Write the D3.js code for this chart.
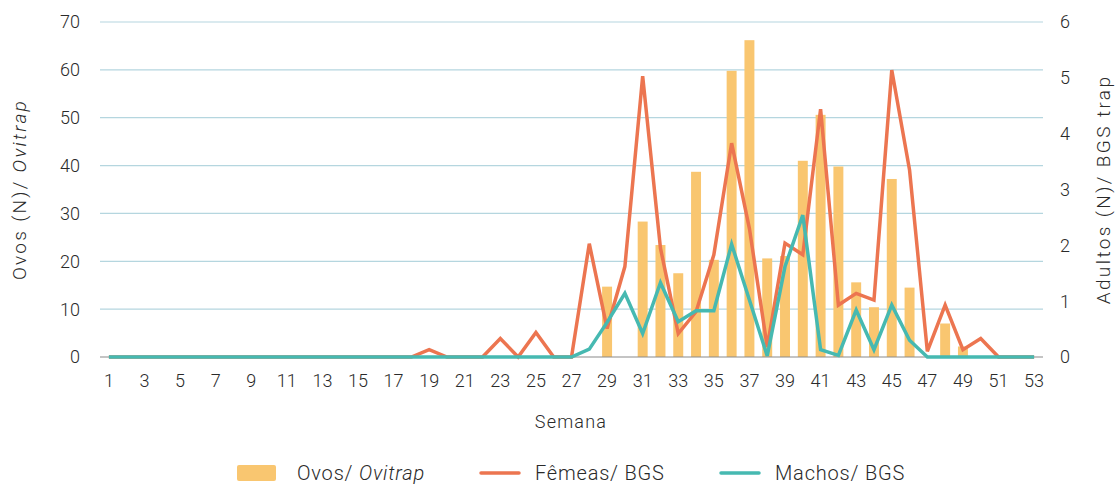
<!DOCTYPE html>
<html>
<head>
<meta charset="utf-8">
<script src="https://cdn.jsdelivr.net/npm/d3@7"></script>
<style>
  body { margin: 0; background: #fff; }
  text { font-family: Roboto, sans-serif; font-weight: 300; fill: #2a2a2a; }
</style>
</head>
<body>
<div id="chart"></div>
<script>
const width = 1119
    height = 484
    margin = {top: 22, right: 76, bottom: 127, left: 100};

// semanas 1..53
const weeks = d3.range(1, 54);

// Ovos/ Ovitrap (eixo esquerdo)
const ovos = [
  0, 0, 0, 0, 0, 0, 0, 0, 0, 0,
  0, 0, 0, 0, 0, 0, 0, 0, 0, 0,
  0, 0, 0, 0, 0, 0, 0, 0, 14.7, 0,
  28.3, 23.4, 17.5, 38.7, 20.3, 59.8, 66.2, 20.6, 21.1, 41.0,
  50.6, 39.8, 15.6, 10.4, 37.2, 14.5, 0, 7.0, 2.2, 0,
  0, 0, 0
];

// Fêmeas/ BGS (eixo direito)
const femeas = [
  0, 0, 0, 0, 0, 0, 0, 0, 0, 0,
  0, 0, 0, 0, 0, 0, 0, 0, 0.13, 0,
  0, 0, 0.33, 0, 0.44, 0, 0, 2.03, 0.51, 1.62,
  5.03, 1.95, 0.42, 0.81, 1.83, 3.83, 2.3, 0.18, 2.04, 1.83,
  4.44, 0.93, 1.14, 1.02, 5.14, 3.35, 0.1, 0.93, 0.13, 0.33,
  0, 0, 0
];

// Machos/ BGS (eixo direito)
const machos = [
  0, 0, 0, 0, 0, 0, 0, 0, 0, 0,
  0, 0, 0, 0, 0, 0, 0, 0, 0, 0,
  0, 0, 0, 0, 0, 0, 0, 0.14, 0.62, 1.14,
  0.42, 1.33, 0.63, 0.83, 0.83, 2.02, 1.02, 0.02, 1.62, 2.54,
  0.13, 0.03, 0.84, 0.13, 0.93, 0.3, 0, 0, 0, 0,
  0, 0, 0
];

const leftTicks = [0, 10, 20, 30, 40, 50, 60, 70];
const rightTicks = [0, 1, 2, 3, 4, 5, 6];
const weekTicks = weeks.filter(w => w % 2 === 1);

const colBar = "#f9c670"
    colFem = "#ec7550"
    colMac = "#46b9b1"
    colGrid = "#b5d6df";

let svg = d3.select("div#chart").append("svg")
    .attr("width", width)
    .attr("height", height);

let x = d3.scaleBand()
    .domain(weeks)
    .range([margin.left, 1043])
    .paddingInner(0.44)
    .paddingOuter(0.22);

let y = d3.scaleLinear()
    .domain([0, 70])
    .range([height - margin.bottom, margin.top]);

let y2 = d3.scaleLinear()
    .domain([0, 6])
    .range([height - margin.bottom, margin.top]);

// grid lines
svg.append("g")
    .selectAll("line")
    .data(leftTicks.filter(d => d > 0))
    .join("line")
    .attr("x1", margin.left)
    .attr("x2", x.range()[1])
    .attr("y1", d => y(d))
    .attr("y2", d => y(d))
    .attr("stroke", colGrid)
    .attr("stroke-width", 1.2);

// left axis labels
svg.append("g")
    .selectAll("text")
    .data(leftTicks)
    .join("text")
    .attr("x", 80)
    .attr("y", d => y(d))
    .attr("dy", "0.36em")
    .attr("text-anchor", "end")
    .style("font-size", "18px")
    .text(d => d);

// right axis labels
svg.append("g")
    .selectAll("text")
    .data(rightTicks)
    .join("text")
    .attr("x", 1060)
    .attr("y", d => y2(d))
    .attr("dy", "0.36em")
    .attr("text-anchor", "start")
    .style("font-size", "18px")
    .text(d => d);

// bars
svg.append("g")
    .selectAll("rect")
    .data(weeks.map((w, i) => ({week: w, value: ovos[i]})).filter(d => d.value > 0))
    .join("rect")
    .attr("x", d => x(d.week))
    .attr("y", d => y(d.value))
    .attr("width", x.bandwidth())
    .attr("height", d => y(0) - y(d.value))
    .attr("fill", colBar);

// baseline
svg.append("line")
    .attr("x1", margin.left)
    .attr("x2", x.range()[1])
    .attr("y1", y(0))
    .attr("y2", y(0))
    .attr("stroke", "#8a8a8a")
    .attr("stroke-width", 1.2);

let line = d3.line()
    .x(d => x(d.week) + x.bandwidth() / 2)
    .y(d => y2(d.value));

svg.append("path")
    .datum(weeks.map((w, i) => ({week: w, value: femeas[i]})))
    .attr("d", line)
    .attr("fill", "none")
    .attr("stroke", colFem)
    .attr("stroke-width", 3.5)
    .attr("stroke-linejoin", "miter");

svg.append("path")
    .datum(weeks.map((w, i) => ({week: w, value: machos[i]})))
    .attr("d", line)
    .attr("fill", "none")
    .attr("stroke", colMac)
    .attr("stroke-width", 3.5)
    .attr("stroke-linejoin", "miter");

// x labels
svg.append("g")
    .selectAll("text")
    .data(weekTicks)
    .join("text")
    .attr("x", d => x(d) + x.bandwidth() / 2)
    .attr("y", 387)
    .attr("text-anchor", "middle")
    .style("font-size", "18px")
    .text(d => d);

svg.append("text")
    .attr("x", 571)
    .attr("y", 428)
    .attr("text-anchor", "middle")
    .style("font-size", "18px")
    .style("letter-spacing", "1.2px")
    .text("Semana");

// axis titles
let tl = svg.append("text")
    .attr("transform", `translate(26, ${(y(0) + y(70)) / 2}) rotate(-90)`)
    .attr("text-anchor", "middle")
    .style("font-size", "19px")
    .style("letter-spacing", "2.3px");
tl.append("tspan").text("Ovos (N)/ ");
tl.append("tspan").style("font-style", "italic").text("Ovitrap");

svg.append("text")
    .attr("transform", `translate(1110, ${(y(0) + y(70)) / 2}) rotate(-90)`)
    .attr("text-anchor", "middle")
    .style("font-size", "19px")
    .style("letter-spacing", "2.4px")
    .text("Adultos (N)/ BGS trap");

// legend
let lg = svg.append("g").attr("transform", "translate(0, 473)")
    .style("font-size", "20px")
    .style("letter-spacing", "0.8px");

lg.append("rect")
    .attr("x", 237).attr("y", -8)
    .attr("width", 39).attr("height", 16)
    .attr("rx", 2)
    .attr("fill", colBar);
let t1 = lg.append("text")
    .attr("x", 297).attr("y", 6.5);
t1.append("tspan").text("Ovos/ ");
t1.append("tspan").style("font-style", "italic").text("Ovitrap");

lg.append("line")
    .attr("x1", 481).attr("x2", 519)
    .attr("stroke", colFem).attr("stroke-width", 3.5)
    .attr("stroke-linecap", "round");
lg.append("text")
    .attr("x", 535).attr("y", 6.5)
    .text("Fêmeas/ BGS");

lg.append("line")
    .attr("x1", 721).attr("x2", 759)
    .attr("stroke", colMac).attr("stroke-width", 3.5)
    .attr("stroke-linecap", "round");
lg.append("text")
    .attr("x", 775).attr("y", 6.5)
    .text("Machos/ BGS");
</script>
</body>
</html>
